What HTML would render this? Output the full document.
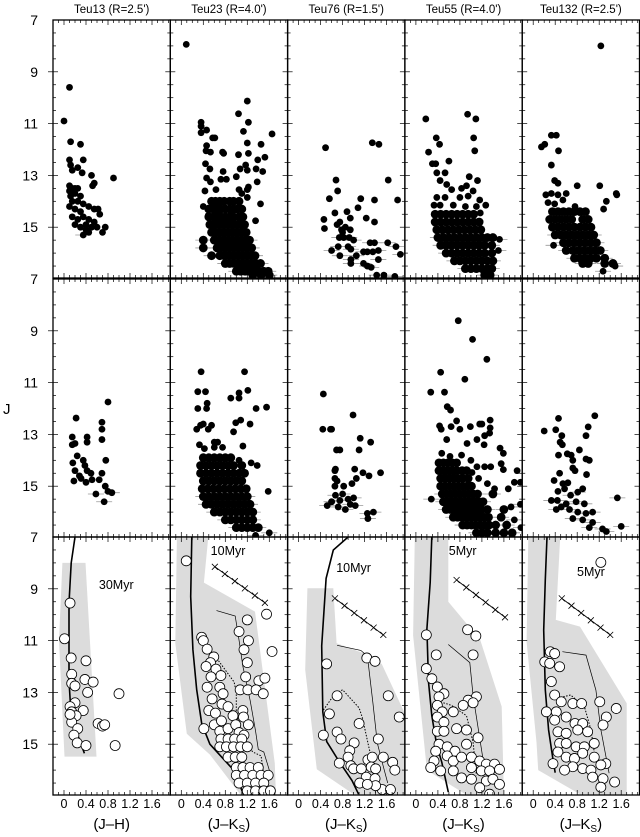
<!DOCTYPE html>
<html><head><meta charset="utf-8"><style>
html,body{margin:0;padding:0;background:#fff;}
svg{display:block;font-family:"Liberation Sans",Arial,sans-serif;}
</style></head><body>
<svg id="fig" width="640" height="837" viewBox="0 0 640 837" xmlns="http://www.w3.org/2000/svg"></svg>
<script>
// ---- layout ----
const colLefts=[53,170.3,287.6,404.9,522.2];
const colW=117.3;
const rowTops=[20,279,537];
const rowH=258;
const jMin=7, jPx=25.9, cMin=-0.2, cPx=55;

// ---- data ----
const titles=["Teu13 (R=2.5')","Teu23 (R=4.0')","Teu76 (R=1.5')","Teu55 (R=4.0')","Teu132 (R=2.5')"];
const yTicks=[7,9,11,13,15];
const xTicks=["0","0.4","0.8","1.2","1.6"];
const xTickVals=[0,0.4,0.8,1.2,1.6];
const xLabels=["(J\u2013H)","(J\u2013K","(J\u2013K","(J\u2013K","(J\u2013K"];
const ages=["30Myr","10Myr","10Myr","5Myr","5Myr"];
const ageLabelPos=[[0.95,9.0],[0.85,7.7],[1.0,8.35],[0.85,7.7],[1.05,8.5]];

// top row (filled)
const teu13Top=[[0.0,10.9],[0.1,9.6],[0.12,11.7],[0.1,12.4],[0.12,12.6],[0.15,12.8],[0.25,12.7],[0.35,12.4],[0.3,11.8],[0.33,12.9],[0.5,13.0],[0.55,13.3],[0.52,13.4],[0.9,13.1],[0.1,13.4],[0.15,13.5],[0.2,13.5],[0.25,13.5],[0.12,13.8],[0.3,13.8],[0.15,14.0],[0.25,14.0],[0.35,14.1],[0.45,14.2],[0.55,14.3],[0.62,14.3],[0.65,14.5],[0.2,14.3],[0.3,14.4],[0.15,14.6],[0.25,14.7],[0.35,14.6],[0.45,14.7],[0.55,14.8],[0.2,14.9],[0.3,15.0],[0.4,15.1],[0.5,15.0],[0.6,15.0],[0.7,15.2],[0.75,15.0],[0.35,15.3],[0.45,15.2],[0.4,14.9],[0.1,14.2],[0.2,13.7],[0.1,13.6]];
const teu23Top=[[0.09,7.94],[1.2,10.13],[1.04,10.62],[1.22,10.95],[0.36,10.95],[0.36,11.1],[0.36,11.35],[0.46,11.25],[1.13,11.3],[1.65,11.4],[0.57,11.55],[0.61,11.55],[0.46,11.85],[1.2,11.75],[1.45,11.8],[0.45,12.05],[0.53,12.1],[0.75,12.1],[0.77,12.15],[1.04,12.2],[1.22,12.15],[1.52,12.3],[1.39,12.4],[0.44,12.55],[0.52,12.75],[1.17,12.6],[1.2,12.8],[1.07,12.75],[1.36,12.75],[1.48,12.85],[0.76,12.85],[1.0,13.05],[0.46,13.1],[0.53,13.25],[0.72,13.15],[0.82,13.15],[1.38,13.25],[0.43,13.6],[0.63,13.55],[1.05,13.55],[1.2,13.55],[1.22,13.45],[1.1,13.7],[1.2,13.85],[0.4,14.2],[0.49,14.55],[1.44,14.1],[1.35,14.75]];
const teu23TopRows=[[14.0,[0.55,0.62,0.7,0.78,0.88,0.95,1.05]],[14.3,[0.5,0.58,0.65,0.72,0.8,0.88,0.95,1.02,1.1]],[14.6,[0.5,0.58,0.65,0.72,0.8,0.88,0.95,1.05,1.12]],[14.9,[0.52,0.6,0.68,0.76,0.84,0.92,1.0,1.08,1.15]],[15.2,[0.55,0.62,0.7,0.78,0.86,0.94,1.02,1.1,1.18]],[15.5,[0.4,0.6,0.68,0.76,0.84,0.92,1.0,1.08,1.16,1.24]],[15.8,[0.4,0.65,0.72,0.8,0.88,0.96,1.04,1.12,1.2,1.28]],[16.1,[0.55,0.7,0.78,0.86,0.94,1.02,1.1,1.18,1.26,1.34]],[16.4,[0.8,0.88,0.96,1.04,1.12,1.2,1.28,1.36,1.44]],[16.7,[1.0,1.08,1.16,1.24,1.32,1.4,1.5,1.58]],[16.85,[1.3,1.45,1.6]]];
const teu76Top=[[0.49,11.93],[1.34,11.74],[1.46,11.8],[0.68,13.18],[0.71,13.6],[1.63,13.18],[0.56,13.9],[1.13,13.9],[1.38,13.95],[1.8,13.95],[0.66,14.45],[0.88,14.4],[1.08,14.25],[0.46,14.7],[0.47,15.05],[0.94,14.65],[1.23,14.65],[1.38,14.8],[0.75,14.8],[0.78,15.1],[0.85,15.0],[0.94,15.1],[1.0,15.5],[0.74,15.4],[0.82,15.4],[0.92,15.4],[0.72,15.75],[0.9,15.75],[0.95,15.85],[0.6,15.9],[0.75,16.1],[0.95,16.25],[0.95,16.4],[1.18,15.95],[1.25,15.95],[1.35,15.95],[1.3,15.6],[1.38,15.6],[1.62,15.6],[1.45,15.9],[1.18,16.4],[1.25,16.5],[1.32,16.55],[1.42,16.85],[1.55,16.85],[1.75,16.9],[1.77,15.75],[1.85,16.05],[1.45,16.25],[1.05,16.1],[0.8,15.2],[0.7,14.9]];
const teu55Top=[[0.18,10.82],[0.94,10.64],[1.09,10.82],[0.37,11.55],[0.43,11.8],[1.05,11.55],[1.07,12.05],[0.23,12.1],[0.6,12.45],[0.3,12.55],[0.36,12.55],[0.53,12.9],[0.38,12.9],[0.97,13.05],[1.12,13.2],[0.44,13.2],[0.56,13.35],[0.65,13.55],[0.83,13.5],[0.92,13.4],[1.04,13.6],[0.38,13.85],[0.53,13.85],[0.8,13.85],[0.95,13.8],[1.16,13.95],[0.33,14.15],[0.44,14.15],[0.68,14.15],[0.9,14.2],[1.1,14.2],[1.27,14.15],[1.17,14.45],[1.52,15.47],[1.5,15.9]];
const teu55TopRows=[[14.5,[0.35,0.45,0.55,0.65,0.75,0.85,0.95,1.05]],[14.8,[0.35,0.45,0.55,0.65,0.75,0.85,0.95,1.05,1.15]],[15.1,[0.38,0.48,0.58,0.68,0.78,0.88,0.98,1.08,1.18]],[15.4,[0.4,0.5,0.6,0.7,0.8,0.9,1.0,1.1,1.2,1.3,1.4]],[15.7,[0.45,0.55,0.65,0.75,0.85,0.95,1.05,1.15,1.25,1.38]],[16.0,[0.55,0.65,0.75,0.85,0.95,1.05,1.15,1.25,1.38]],[16.3,[0.7,0.8,0.9,1.0,1.1,1.2,1.3,1.4]],[16.6,[0.9,1.0,1.1,1.2,1.3,1.38]],[16.85,[1.25,1.35]]];
const teu132Top=[[1.23,8.0],[0.15,11.9],[0.21,11.8],[0.33,11.45],[0.42,11.45],[0.46,12.05],[0.33,12.6],[0.39,13.2],[0.45,13.3],[0.8,13.4],[1.21,13.4],[0.23,13.75],[0.33,13.7],[0.45,13.75],[0.6,13.7],[1.51,13.7],[1.52,13.75],[1.33,14.0],[1.28,14.3],[0.27,14.05],[0.39,14.1],[0.54,13.95],[0.76,14.2],[0.37,15.7],[1.27,16.7],[1.49,16.5]];
const teu132TopRows=[[14.4,[0.35,0.45,0.55,0.65,0.75,0.85,0.95]],[14.7,[0.3,0.4,0.5,0.6,0.7,0.9,1.0]],[15.0,[0.35,0.45,0.55,0.65,0.75,0.85,0.95,1.05]],[15.3,[0.4,0.5,0.6,0.7,0.8,0.9,1.0,1.1]],[15.6,[0.55,0.65,0.75,0.85,0.95,1.05,1.15]],[15.9,[0.6,0.72,0.82,0.92,1.02,1.12,1.22]],[16.2,[0.75,0.85,0.95,1.05,1.15,1.3]],[16.4,[0.9,1.0,1.3,1.45]]];

// middle row (filled)
const teu13Mid=[[0.22,12.37],[0.8,11.75],[0.69,12.53],[0.69,12.8],[0.15,13.1],[0.42,13.1],[0.15,13.4],[0.2,13.35],[0.42,13.3],[0.69,13.2],[0.24,13.83],[0.16,14.1],[0.35,14.0],[0.76,14.0],[0.2,14.4],[0.42,14.4],[0.49,14.5],[0.69,14.5],[0.18,14.8],[0.31,14.7],[0.4,14.85],[0.51,14.75],[0.64,14.75],[0.75,15.0],[0.8,15.2],[0.87,15.25],[0.58,15.3],[0.73,15.6],[0.28,14.6],[0.38,14.2]];
const teu23Mid=[[0.36,10.58],[1.15,10.58],[0.3,11.35],[0.44,11.35],[1.05,11.4],[1.21,11.3],[0.9,11.6],[1.05,11.6],[0.47,11.8],[0.3,12.0],[0.46,12.0],[1.36,12.0],[1.55,11.95],[0.4,12.6],[0.35,12.65],[0.55,12.65],[0.28,12.8],[0.49,12.8],[1.08,12.45],[0.99,12.55],[1.25,12.6],[0.95,12.9],[0.33,13.4],[0.42,13.55],[0.6,13.3],[0.66,13.3],[0.6,13.5],[0.75,13.5],[1.12,13.45],[1.05,14.0],[1.27,14.1],[1.38,14.2],[1.58,15.2],[1.6,16.8],[1.35,16.9]];
const teu23MidRows=[[13.9,[0.4,0.5,0.6,0.7,0.8,0.9]],[14.2,[0.35,0.45,0.55,0.65,0.75,0.85,0.95,1.1]],[14.5,[0.35,0.45,0.55,0.65,0.75,0.85,0.95,1.05,1.15]],[14.8,[0.4,0.5,0.6,0.7,0.8,0.9,1.0,1.1]],[15.1,[0.38,0.48,0.58,0.68,0.78,0.88,0.98,1.08,1.18]],[15.4,[0.4,0.5,0.6,0.7,0.8,0.9,1.0,1.1,1.2]],[15.7,[0.45,0.55,0.65,0.75,0.85,0.95,1.05,1.15,1.25]],[16.0,[0.6,0.7,0.8,0.9,1.0,1.1,1.2,1.3]],[16.3,[0.8,0.9,1.0,1.1,1.2,1.3]],[16.6,[1.0,1.1,1.2,1.3,1.4]]];
const teu76Mid=[[0.45,11.44],[0.44,12.8],[0.58,12.8],[0.69,13.6],[0.66,14.4],[0.66,14.7],[0.66,15.0],[0.52,15.75],[0.6,15.6],[0.99,12.25],[0.6,12.8],[1.12,13.15],[1.31,13.3],[0.75,13.6],[1.1,13.6],[0.67,14.34],[1.02,14.34],[1.17,14.48],[1.28,14.6],[1.49,14.48],[0.7,14.8],[0.82,15.0],[0.97,14.9],[1.05,14.7],[0.67,15.35],[0.8,15.3],[0.9,15.5],[1.0,15.45],[0.94,15.7],[1.03,15.75],[1.25,16.05],[1.26,16.25],[1.36,16.0],[0.6,15.6],[0.72,15.8],[0.85,15.9],[0.75,15.55]];
const teu55Mid=[[0.77,8.61],[1.03,9.33],[1.29,10.1],[0.45,10.6],[0.89,10.87],[0.27,11.37],[0.52,11.37],[0.57,11.93],[0.63,12.06],[0.74,12.48],[0.43,12.67],[0.46,12.8],[0.64,12.7],[0.8,12.8],[0.99,12.7],[1.16,12.6],[1.2,12.6],[1.35,12.45],[1.35,12.75],[1.34,12.95],[0.56,13.2],[0.93,13.35],[1.11,13.2],[1.25,13.05],[1.24,13.4],[0.47,13.73],[0.62,13.85],[0.83,13.8],[1.0,14.0],[1.53,13.53],[1.59,13.73],[1.55,14.13],[1.59,14.36],[1.11,14.25],[1.25,14.25],[1.36,14.25],[1.02,14.47],[1.84,14.4],[1.14,14.7],[1.3,14.9],[1.43,15.1],[1.68,15.1],[1.79,14.85],[1.9,14.85],[1.9,15.7],[1.73,15.8],[1.79,16.3],[1.91,16.6],[0.28,15.5]];
const teu55MidRows=[[14.1,[0.42,0.5,0.58,0.66,0.74]],[14.4,[0.42,0.5,0.58,0.66,0.74,0.84,0.92]],[14.7,[0.45,0.53,0.61,0.69,0.77,0.85,0.95]],[15.0,[0.45,0.53,0.61,0.69,0.77,0.85,0.93,1.01]],[15.3,[0.48,0.56,0.64,0.72,0.8,0.88,0.96,1.04,1.12,1.4]],[15.6,[0.5,0.58,0.66,0.74,0.82,0.9,0.98,1.06,1.14,1.22]],[15.9,[0.55,0.63,0.71,0.79,0.87,0.95,1.03,1.11,1.19,1.3,1.6]],[16.2,[0.68,0.76,0.84,0.92,1.0,1.08,1.16,1.24,1.32,1.55]],[16.5,[0.85,0.93,1.01,1.09,1.17,1.25,1.33,1.45,1.65]],[16.8,[1.1,1.2,1.3,1.45,1.6,1.75]]];
const teu132Mid=[[0.2,12.87],[0.46,12.38],[0.41,12.82],[1.12,12.28],[1.0,12.71],[0.96,13.05],[0.52,13.05],[0.49,13.3],[0.53,13.4],[0.46,13.8],[0.62,13.75],[0.69,13.8],[0.72,14.0],[0.84,13.6],[0.96,13.95],[1.02,14.0],[0.72,14.3],[0.76,14.4],[0.48,14.5],[0.97,14.55],[0.38,14.78],[0.54,14.9],[0.63,14.87],[0.57,15.1],[0.81,15.23],[0.9,15.1],[0.44,15.55],[0.6,15.68],[0.78,15.6],[0.93,15.68],[1.53,15.45],[0.51,15.8],[0.66,15.9],[0.81,16.0],[0.96,16.05],[1.08,16.0],[0.72,16.25],[0.9,16.3],[1.08,16.4],[1.02,16.6],[1.26,16.65],[1.33,16.75],[1.6,16.55],[0.33,15.55],[0.42,15.9],[0.45,15.2],[0.68,15.35]];

// bottom row (open circles)
const teu13Bot=[[0.11,9.55],[0.01,10.93],[0.13,11.67],[0.4,11.78],[0.14,12.3],[0.38,12.5],[0.53,12.6],[0.14,12.65],[0.2,12.75],[0.43,13.0],[1.0,13.05],[0.2,13.4],[0.11,13.55],[0.14,13.75],[0.35,13.7],[0.22,13.9],[0.14,14.15],[0.25,14.4],[0.62,14.2],[0.7,14.3],[0.74,14.25],[0.18,14.65],[0.24,14.95],[0.4,15.05],[0.93,15.05],[0.11,13.85]];
const teu23Bot=[[0.09,7.92],[1.55,9.98],[1.2,10.2],[1.05,10.65],[1.22,11.0],[1.14,11.35],[1.65,11.42],[0.37,10.87],[0.4,11.0],[0.47,11.33],[0.59,11.63],[0.53,11.85],[0.45,12.0],[0.63,12.1],[0.72,12.35],[0.54,12.4],[1.2,11.85],[1.17,12.4],[1.41,12.55],[1.52,12.45],[1.07,12.9],[1.21,12.9],[1.36,12.9],[1.49,13.05],[0.47,12.8],[0.7,12.8],[0.56,13.25],[0.76,13.05],[0.74,13.45],[0.85,13.55],[0.5,13.7],[0.62,13.8],[0.41,14.4],[0.6,14.25],[0.73,14.1],[0.94,13.9],[1.12,13.7],[1.13,13.95],[1.22,14.25],[0.7,14.5],[0.85,14.4],[0.99,14.25],[1.05,14.55],[1.14,14.65],[0.72,14.8],[0.85,14.8],[0.97,14.8],[1.1,14.8],[0.7,15.1],[0.82,15.1],[0.95,15.1],[1.08,15.1],[1.2,15.1],[0.85,15.5],[0.98,15.5],[1.1,15.5],[1.0,15.9],[1.12,15.9],[1.25,15.9],[1.4,15.9],[1.0,16.2],[1.15,16.2],[1.3,16.2],[1.45,16.2],[1.58,16.2],[1.05,16.5],[1.2,16.5],[1.35,16.5],[1.5,16.5],[1.2,16.8],[1.35,16.8],[1.5,16.8],[1.62,16.8]];
const teu76Bot=[[0.51,11.9],[1.24,11.67],[1.39,11.8],[0.7,13.13],[0.56,13.83],[1.63,13.13],[1.83,13.95],[1.1,14.2],[0.45,14.65],[0.7,14.53],[0.77,14.8],[1.01,14.95],[0.93,15.25],[0.9,15.5],[1.45,14.8],[0.74,15.73],[0.95,15.83],[1.0,15.95],[1.26,15.6],[1.34,15.5],[1.54,15.5],[1.71,15.7],[1.14,15.95],[1.32,15.88],[1.4,15.95],[1.75,16.0],[1.23,16.27],[1.39,16.33],[1.11,16.5],[1.52,16.75],[1.67,16.75],[1.4,16.6],[1.25,16.55]];
const teu55Bot=[[0.19,10.78],[0.94,10.58],[1.09,10.82],[0.37,11.55],[1.04,11.55],[0.19,12.08],[0.29,12.47],[0.39,12.79],[0.51,13.05],[0.42,13.17],[1.1,13.17],[0.95,13.3],[0.86,13.5],[1.04,13.4],[0.39,13.5],[0.48,13.75],[0.39,13.95],[0.51,14.15],[0.68,13.75],[0.39,14.5],[0.51,14.5],[0.74,14.4],[0.92,14.45],[1.13,14.75],[0.92,15.0],[0.42,15.0],[0.57,15.1],[0.71,15.27],[0.57,15.45],[0.68,15.65],[0.83,15.5],[1.01,15.5],[1.16,15.65],[1.28,15.77],[1.43,15.77],[0.36,15.27],[0.33,15.65],[0.27,15.9],[0.45,16.03],[0.68,16.03],[1.01,15.9],[1.19,16.03],[1.34,16.03],[1.52,15.97],[0.83,16.3],[1.01,16.35],[1.28,16.42],[1.4,16.35],[1.16,16.68],[1.34,16.93],[1.52,16.55]];
const teu132Bot=[[1.23,7.98],[0.31,11.43],[0.39,11.5],[0.21,11.82],[0.3,11.88],[0.48,12.01],[0.33,12.58],[0.39,13.1],[0.51,13.36],[0.72,13.43],[0.88,13.43],[1.21,13.36],[1.51,13.62],[0.24,13.75],[0.42,13.75],[0.39,14.07],[0.6,13.95],[0.76,14.2],[0.9,14.2],[1.33,13.95],[1.27,14.26],[0.45,14.52],[0.6,14.58],[0.81,14.45],[0.99,14.52],[0.48,14.97],[0.6,14.97],[0.78,15.1],[0.93,15.1],[1.11,14.97],[0.45,15.3],[0.6,15.5],[0.75,15.55],[0.9,15.35],[1.11,15.5],[1.32,15.75],[0.72,15.87],[0.9,15.94],[1.05,16.0],[1.23,15.8],[1.08,16.27],[1.27,16.33],[1.48,16.46],[1.23,16.66],[0.57,16.0],[0.36,15.75]];

// bottom-row overlays
const regions=[
 [[-0.03,8.0],[0.39,8.0],[0.59,15.48],[0.01,15.48],[-0.09,11]],
 [[-0.08,7.0],[0.49,7.0],[0.41,8.76],[1.34,9.88],[1.7,15.74],[1.72,16.93],[1.07,16.93],[0.52,15.4],[0.1,14.6],[-0.11,11.1]],
 [[0.16,8.98],[0.63,8.98],[0.69,11.1],[1.18,11.49],[1.51,11.9],[1.95,13.9],[1.95,16.93],[1.0,16.93],[0.33,15.97],[0.12,12.13]],
 [[-0.02,7.02],[0.59,7.02],[0.59,9.5],[1.17,10.98],[1.56,13.55],[1.6,16.93],[0.9,16.93],[0.2,16.0],[-0.05,10.8]],
 [[-0.09,7.02],[0.49,7.02],[0.41,10.2],[0.85,10.46],[1.7,13.42],[1.7,16.93],[0.85,16.93],[0.09,16.0],[0.06,14.93],[-0.12,11.05]]];
const isochrones=[
 [[0.2,7.0],[0.13,8.0],[0.09,9.55],[0.09,12.55],[0.13,13.95],[0.37,15.35]],
 [[0.19,7.0],[0.17,9.3],[0.21,11.35],[0.28,12.9],[0.37,14.2],[0.52,15.0],[0.95,16.0],[1.13,16.93]],
 [[0.9,7.0],[0.63,7.5],[0.5,8.6],[0.42,11.2],[0.44,13.75],[0.51,14.9],[0.73,15.65],[0.97,16.4],[1.09,16.93]],
 [[0.29,7.0],[0.26,8.75],[0.2,10.55],[0.23,12.6],[0.29,13.9],[0.38,15.05],[0.47,15.7],[0.59,16.85]],
 [[0.25,7.0],[0.22,8.65],[0.19,10.6],[0.22,12.9],[0.28,14.45],[0.37,15.75],[0.4,16.1]]];
const vectors=[null,[[0.61,8.15],[1.52,9.54]],[[0.66,9.37],[1.54,10.78]],[[0.74,8.66],[1.62,10.1]],[[0.52,9.37],[1.4,10.78]]];
const thinTracks=[null,
 [[0.64,9.84],[0.98,10.05],[1.05,11.0],[1.12,12.0],[1.25,13.3],[1.35,14.5],[1.4,15.2],[1.5,15.3],[1.6,16.0]],
 [[0.7,11.18],[1.13,11.38],[1.25,11.6],[1.35,13.4],[1.43,14.95],[1.52,15.7],[1.62,16.5]],
 [[0.59,11.15],[0.98,11.85],[1.04,13.13],[1.22,15.58],[1.4,16.5]],
 [[0.53,11.43],[0.96,11.56],[1.14,12.91],[1.23,14.45],[1.38,16.12]]];
const dottedTracks=[null,
 [[0.58,11.5],[0.96,12.6],[1.0,13.0],[1.0,13.8],[1.12,14.8],[1.3,15.3],[1.45,15.45],[1.5,16.2]],
 [[0.45,13.68],[0.66,13.05],[0.8,12.9],[1.1,13.6],[1.16,13.98],[1.28,15.14],[1.34,15.66],[1.4,16.9]],
 [[0.5,13.4],[0.65,13.5],[0.92,13.9],[1.04,14.93],[1.1,16.2]],
 [[0.44,13.23],[0.68,13.1],[0.93,13.55],[1.05,14.45],[1.14,15.73]]];

const topData=[teu13Top,teu23Top,teu76Top,teu55Top,teu132Top];
const topRows=[null,teu23TopRows,null,teu55TopRows,teu132TopRows];
const midData=[teu13Mid,teu23Mid,teu76Mid,teu55Mid,teu132Mid];
const midRows=[null,teu23MidRows,null,teu55MidRows,null];
const botData=[teu13Bot,teu23Bot,teu76Bot,teu55Bot,teu132Bot];

// ---- helpers ----
const NS="http://www.w3.org/2000/svg";
const svg=document.getElementById('fig');
function mk(tag,attrs,parent){const e=document.createElementNS(NS,tag);for(const k in attrs)e.setAttribute(k,attrs[k]);(parent||svg).appendChild(e);return e;}
function xS(col,c){return colLefts[col]+(c-cMin)*cPx;}
function yS(row,j){return rowTops[row]+(j-jMin)*jPx;}
function expand(list,rows){const out=list.map(p=>[p[0],p[1],3.4]);if(rows)rows.forEach(r=>r[1].forEach(c=>out.push([c,r[0],4.4])));return out;}
function pathOf(col,row,pts){return pts.map((p,i)=>(i?'L':'M')+xS(col,p[0]).toFixed(1)+' '+yS(row,p[1]).toFixed(1)).join(' ');}

const defs=mk('defs',{});
for(let r=0;r<3;r++)for(let c=0;c<5;c++){
  const cp=mk('clipPath',{id:'cp'+r+c},defs);
  mk('rect',{x:colLefts[c],y:rowTops[r],width:colW,height:rowH},cp);
}

for(let r=0;r<3;r++){
 for(let c=0;c<5;c++){
  const g=mk('g',{'clip-path':'url(#cp'+r+c+')'});
  
  
  if(r<2){
    const pts=expand(r===0?topData[c]:midData[c],r===0?topRows[c]:midRows[c]);
    pts.forEach(p=>{
      if(p[1]>15.2){
        const eb=mk('line',{x1:xS(c,p[0])-8,x2:xS(c,p[0])+8,y1:yS(r,p[1]),y2:yS(r,p[1]),stroke:'#999','stroke-width':0.8},g);
        
        
      }
    });
    pts.forEach(p=>{
      const d=mk('circle',{cx:xS(c,p[0]),cy:yS(r,p[1]),r:p[2],fill:'#000'},g);
      
      
    });
  } else {
    const reg=mk('path',{d:pathOf(c,r,regions[c])+' Z',fill:'#dcdcdc',stroke:'none'},g);
    
    
    if(thinTracks[c]){
      const t=mk('path',{d:pathOf(c,r,thinTracks[c]),fill:'none',stroke:'#000','stroke-width':0.7},g);
      
      
      const dt=mk('path',{d:pathOf(c,r,dottedTracks[c]),fill:'none',stroke:'#000','stroke-width':1,'stroke-dasharray':'1.5 1.5'},g);
      
      
    }
    const iso=mk('path',{d:pathOf(c,r,isochrones[c]),fill:'none',stroke:'#000','stroke-width':1.6},g);
    
    
    if(vectors[c]){
      const v=vectors[c];
      const x1=xS(c,v[0][0]),y1=yS(r,v[0][1]),x2=xS(c,v[1][0]),y2=yS(r,v[1][1]);
      const rv=mk('line',{x1:x1,y1:y1,x2:x2,y2:y2,stroke:'#000','stroke-width':0.9},g);
      
      
      for(let k=0;k<=5;k++){
        const px=x1+(x2-x1)*k/5,py=y1+(y2-y1)*k/5;
        mk('path',{d:`M${px-3} ${py-3}L${px+3} ${py+3}M${px+3} ${py-3}L${px-3} ${py+3}`,stroke:'#000','stroke-width':0.8},g);
      }
    }
    botData[c].forEach(p=>{
      const o=mk('circle',{cx:xS(c,p[0]),cy:yS(r,p[1]),r:5,fill:'#fff',stroke:'#000','stroke-width':0.8},g);
      
      
    });
    const al=mk('text',{x:xS(c,ageLabelPos[c][0]),y:yS(r,ageLabelPos[c][1]),'font-size':12.5,'text-anchor':'middle'},g);
    al.textContent=ages[c];
    
    
  }
  const L=colLefts[c],T=rowTops[r],R=L+colW,B=T+rowH;
  const tk=mk('g',{stroke:'#000','stroke-width':0.7});
  
  
  for(let j=7.5;j<17;j+=0.5){
    const y=yS(r,j);if(y>=B)break;
    const major=(Math.abs(j%2-1)<0.01);
    const len=major?5:3;
    mk('line',{x1:L,x2:L+len,y1:y,y2:y},tk);
    mk('line',{x1:R-len,x2:R,y1:y,y2:y},tk);
    if(major&&c===0) mk('line',{x1:L-5,x2:L,y1:y,y2:y},tk);
  }
  for(let k=-1;k<=19;k++){
    const cc=k/10;const x=xS(c,cc);if(x<=L||x>=R)continue;
    const major=(k%4===0);const len=major?5:3;
    mk('line',{x1:x,x2:x,y1:T,y2:T+len},tk);
    mk('line',{x1:x,x2:x,y1:B-len,y2:B},tk);
  }
  const fr=mk('rect',{x:L,y:T,width:colW,height:rowH,fill:'none',stroke:'#000','stroke-width':1.3});
  
  
 }
}

titles.forEach((t,c)=>{
  const e=mk('text',{x:colLefts[c]+colW/2,y:13,'font-size':11.5,'text-anchor':'middle'});
  e.textContent=t;
  
  
});
for(let r=0;r<3;r++){
  yTicks.forEach(v=>{
    const e=mk('text',{x:38,y:yS(r,v)+5,'font-size':14,'text-anchor':'end'});
    e.textContent=v;
    
    
  });
}
const yl=mk('text',{x:3,y:414,'font-size':15});
yl.textContent='J';


for(let c=0;c<5;c++){
  xTickVals.forEach((v,i)=>{
    const e=mk('text',{x:xS(c,v),y:808,'font-size':12.5,'text-anchor':'middle'});
    e.textContent=xTicks[i];
    
    
  });
  const xt=mk('text',{x:colLefts[c]+colW/2,y:829,'font-size':15,'text-anchor':'middle'});
  
  
  if(c===0){xt.textContent=xLabels[0];}
  else{
    xt.appendChild(document.createTextNode(xLabels[c]));
    const s=mk('tspan',{'font-size':10,dy:3},xt);s.textContent='S';
    const s2=mk('tspan',{dy:-3},xt);s2.textContent=')';
  }
}
</script>
</body></html>
